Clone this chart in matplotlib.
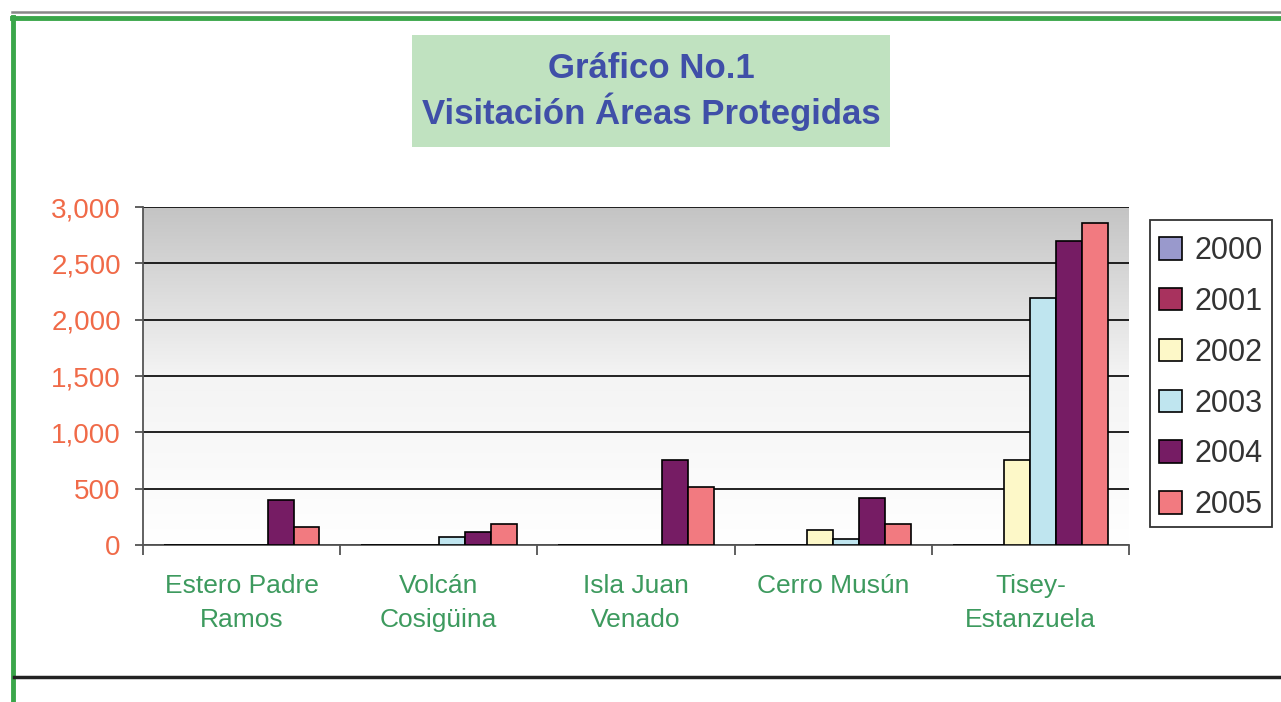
import numpy as np
import matplotlib
matplotlib.use("Agg")
import matplotlib.pyplot as plt
from matplotlib.lines import Line2D
from matplotlib.patches import Rectangle
from matplotlib.ticker import FuncFormatter, MultipleLocator

areas = [
    "Estero Padre\nRamos",
    "Volcán\nCosigüina",
    "Isla Juan\nVenado",
    "Cerro Musún",
    "Tisey-\nEstanzuela",
]
years = ["2000", "2001", "2002", "2003", "2004", "2005"]
v2000 = [0, 0, 0, 0, 0]
v2001 = [0, 0, 0, 0, 0]
v2002 = [0, 0, 0, 130, 755]
v2003 = [0, 70, 0, 55, 2190]
v2004 = [400, 115, 755, 420, 2700]
v2005 = [160, 185, 515, 185, 2860]
colors = ["#9999cc", "#a8325e", "#fdf8c8", "#bfe5ef", "#761c64", "#f27a80"]

plt.rcParams["font.family"] = ["Liberation Sans", "DejaVu Sans"]

fig = plt.figure(figsize=[12.81, 7.02], dpi=100)
W, H = 1281.0, 702.0


def fx(px):
    return px / W


def fy(py):
    return 1 - py / H


# frame lines
fig.add_artist(Line2D([fx(12), 1], [fy(12), fy(12)], color="#888888", lw=1.8))
fig.add_artist(Line2D([fx(12), 1], [fy(17.5), fy(17.5)], color="#3aa64a", lw=3.5))
fig.add_artist(Line2D([fx(13), fx(13)], [fy(17), 0], color="#3aa64a", lw=3.5))
fig.add_artist(Line2D([fx(14), 1], [fy(677), fy(677)], color="#222222", lw=2.5))

# title box
fig.add_artist(Rectangle((fx(412), fy(147)), fx(890) - fx(412), fy(35) - fy(147),
                         facecolor="#c0e2c0", edgecolor="none"))
fig.text(fx(651), fy(68), "Gráfico No.1", ha="center", va="center",
         fontsize=25, fontweight="bold", color="#3f4fa8")
fig.text(fx(651), fy(112), "Visitación Áreas Protegidas", ha="center", va="center",
         fontsize=25, fontweight="bold", color="#3f4fa8")

ax = fig.add_axes([fx(143), fy(545), fx(1129) - fx(143), fy(207) - fy(545)])

series = [v2000, v2001, v2002, v2003, v2004, v2005]
n = len(series)
x = np.arange(len(areas))
bw = 0.79 / n
for i, (vals, col, yr) in enumerate(zip(series, colors, years)):
    ax.bar(x - 0.395 + bw * (i + 0.5), vals, width=bw, color=col,
           edgecolor="black", linewidth=1.2, label=yr, zorder=3)

ax.set_xlim(-0.5, len(areas) - 0.5)
ax.set_ylim(0, 3000)

# gradient background
grad = np.linspace(0, 1, 256).reshape(-1, 1)
cmap = matplotlib.colors.LinearSegmentedColormap.from_list(
    "bg", ["#ffffff", "#f4f4f4", "#c4c4c4"])
ax.imshow(grad, aspect="auto", cmap=cmap, origin="lower",
          extent=[-0.5, len(areas) - 0.5, 0, 3000], zorder=0)

ax.yaxis.set_major_locator(MultipleLocator(500))
ax.yaxis.set_major_formatter(FuncFormatter(lambda v, p: f"{int(v):,}"))
ax.grid(axis="y", color="#111111", linewidth=1.3, zorder=1)

ax.set_xticks(np.arange(len(areas) + 1) - 0.5, minor=False)
ax.set_xticklabels([])
ax.set_xticks(x, minor=True)
ax.set_xticklabels(areas, minor=True, fontsize=19, color="#3d9a5e",
                   linespacing=1.5)
ax.tick_params(axis="x", which="minor", length=0, pad=21)
ax.tick_params(axis="x", which="major", length=7, color="#444444", width=1.2)
ax.tick_params(axis="y", length=6, color="#444444", width=1.2,
               labelsize=20, labelcolor="#f06a48", pad=10)

for s in ["top", "right"]:
    ax.spines[s].set_visible(False)
for s in ["left", "bottom"]:
    ax.spines[s].set_color("#555555")
    ax.spines[s].set_linewidth(1.3)

# legend box drawn separately so its size matches the original
fig.add_artist(Rectangle((fx(1150), fy(527)), fx(1272) - fx(1150), fy(220) - fy(527),
                         facecolor="white", edgecolor="#333333", linewidth=1.3,
                         zorder=-1))
leg = ax.legend(loc="upper left", bbox_to_anchor=(fx(1150), fy(227)),
                bbox_transform=fig.transFigure, fontsize=22, frameon=False,
                handlelength=0.75, handleheight=0.75, labelspacing=0.68,
                borderpad=0.3, handletextpad=0.4, borderaxespad=0)
for t in leg.get_texts():
    t.set_color("#333333")

fig.savefig("out.png", dpi=100)
